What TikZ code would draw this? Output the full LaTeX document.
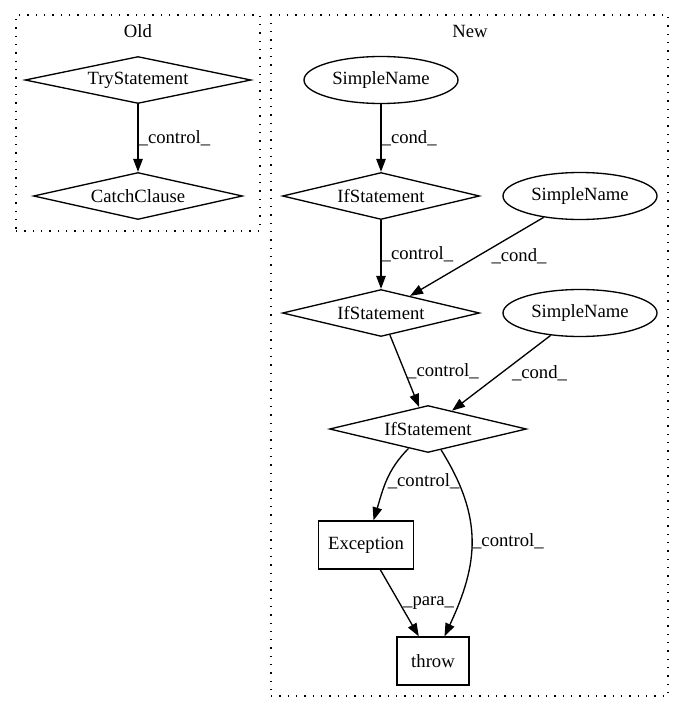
\documentclass[tikz,border=0pt]{standalone}
\usepackage{fontspec}
\setmainfont{Liberation Serif}
\usepackage{tikz}
\usetikzlibrary{arrows.meta}
\usetikzlibrary{shapes,positioning}

\begin{document}
\begin{tikzpicture}[x=1pt, y=-1pt, line width=1.33pt, >={Triangle[length=13pt,width=9.5pt]},
	every node/.style={inner sep=0pt, font=\fontsize{18.67}{22}\selectfont},
	dia/.style={diamond, aspect=5, draw, minimum width=#1, minimum height=47pt},
	ell/.style={ellipse, draw, minimum width=154pt, minimum height=47pt},
	box/.style={rectangle, draw, minimum width=#1, minimum height=48pt},
	lbl/.style={anchor=west},
	clus/.style={draw, dash pattern=on 1.33pt off 7pt, minimum width=#1}]
					\useasboundingbox (0,0) rectangle (684,712);
					\node (oldbox) at (138,123) [clus=244pt, minimum height=216pt] {};
					\node (newbox) at (469.5,355.5) [clus=397pt, minimum height=681pt] {};
					\node (oldtitle) at (138,31) {Old};
					\node (newtitle) at (470,31) {New};
					\node (try) at (138,80) [dia=226pt] {TryStatement};
					\node (catch) at (138,196) [dia=209pt] {CatchClause};
					\node (sn1) at (381,80) [ell] {SimpleName};
					\node (if1) at (381,196) [dia=197pt] {IfStatement};
					\node (sn2) at (580,196) [ell] {SimpleName};
					\node (if2) at (381,313) [dia=197pt] {IfStatement};
					\node (sn3) at (580,313) [ell] {SimpleName};
					\node (if3) at (428,429) [dia=197pt] {IfStatement};
					\node (exc) at (366,545) [box=95pt] {Exception};
					\node (throw) at (433,661) [box=72pt] {throw};
					\draw[->] (try) -- (catch) node[lbl, midway] {\_control\_};
					\draw[->] (sn1) -- (if1) node[lbl, midway] {\_cond\_};
					\draw[->] (if1) -- (if2) node[lbl, midway] {\_control\_};
					\draw[->] (sn2) -- (if2) node[lbl, midway, xshift=14pt] {\_cond\_};
					\draw[->] (if2) -- (if3) node[lbl, midway, xshift=2pt] {\_control\_};
					\draw[->] (sn3) -- (if3) node[lbl, midway, xshift=10pt] {\_cond\_};
					\draw[->] (if3) to[out=225, in=73] node[lbl, midway, xshift=1pt] {\_control\_} (exc);
					\draw[->] (if3) to[out=-58, in=65, looseness=1.1] node[lbl, midway] {\_control\_} (throw);
					\draw[->] (exc) -- (throw) node[lbl, midway, xshift=3pt] {\_para\_};
				\end{tikzpicture}
\end{document}
